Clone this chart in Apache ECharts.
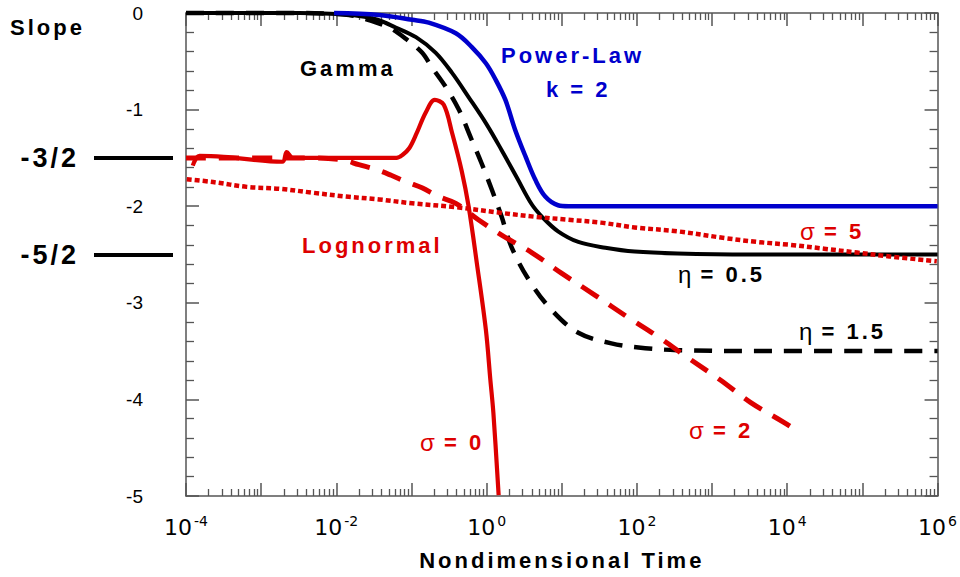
<!DOCTYPE html>
<html><head><meta charset="utf-8">
<script src="https://cdn.jsdelivr.net/npm/echarts@6/dist/echarts.min.js"></script>
<style>
html,body{margin:0;padding:0;background:#fff;}
#chart{width:960px;height:577px;}
#chart text[style*="bold"]{letter-spacing:3px;}
</style></head><body><div id="chart"></div>
<script>
// ---- data (x values are log10 of nondimensional time) ----
const xMajorExponents = [-4,-3,-2,-1,0,1,2,3,4,5,6];
const xLabelExponents = [-4,-2,0,2,4,6];
const yTickValues = [0,-1,-2,-3,-4,-5];
const slopeMarks = [-1.5,-2.5];
const slopeMarkLabels = ['-3/2','-5/2'];

const logT_gamma05 = [-4,-2.5,-2.0,-1.70,-1.45,-1.21,-0.94,-0.68,-0.46,-0.24,-0.01,0.20,0.40,0.60,0.75,0.95,1.22,1.58,1.97,2.54,3.5,6];
const slope_gamma05 = [0,0,-0.01,-0.03,-0.07,-0.15,-0.25,-0.41,-0.62,-0.87,-1.14,-1.42,-1.70,-1.98,-2.12,-2.26,-2.37,-2.43,-2.47,-2.49,-2.5,-2.5];

const logT_gamma15 = [-4,-2.5,-2.0,-1.83,-1.66,-1.30,-1.07,-0.86,-0.73,-0.54,-0.37,-0.20,-0.07,0.07,0.20,0.33,0.56,0.86,1.22,1.66,2.11,2.54,3.5,6];
const slope_gamma15 = [0,0,-0.01,-0.02,-0.05,-0.15,-0.27,-0.41,-0.56,-0.77,-1.00,-1.31,-1.55,-1.83,-2.11,-2.42,-2.76,-3.07,-3.31,-3.42,-3.47,-3.49,-3.5,-3.5];

const logT_power2 = [-2.03,-1.43,-0.99,-0.77,-0.41,-0.20,-0.01,0.12,0.25,0.38,0.52,0.65,0.78,0.95,1.09,6];
const slope_power2 = [0,-0.02,-0.07,-0.10,-0.21,-0.35,-0.52,-0.69,-0.90,-1.21,-1.49,-1.73,-1.90,-1.99,-2.0,-2.0];

const logT_sigma5 = [-3.99,-3.64,-3.19,-2.75,-2.32,-1.87,-1.43,-0.99,-0.41,0.20,0.65,1.09,1.52,1.97,2.54,3.17,3.60,4.04,4.49,4.93,5.36,5.99];
const slope_sigma5 = [-1.72,-1.75,-1.80,-1.82,-1.86,-1.90,-1.93,-1.97,-2.01,-2.07,-2.11,-2.14,-2.17,-2.22,-2.26,-2.33,-2.37,-2.40,-2.44,-2.48,-2.52,-2.57];

const logT_sigma2 = [-4,-3,-2.3,-1.92,-1.70,-1.47,-1.27,-1.06,-0.86,-0.64,-0.41,-0.11,0.20,0.60,0.99,1.44,1.88,2.28,2.68,3.11,3.51,3.96,4.16];
const slope_sigma2 = [-1.5,-1.5,-1.5,-1.52,-1.57,-1.62,-1.68,-1.75,-1.81,-1.90,-1.97,-2.14,-2.30,-2.48,-2.69,-2.92,-3.15,-3.35,-3.57,-3.80,-4.03,-4.24,-4.34];

const logT_sigma0 = [-3.91,-3.82,-3.5,-2.72,-2.66,-2.58,-2.4,-1.5,-1.2,-1.12,-1.03,-0.94,-0.81,-0.69,-0.57,-0.46,-0.33,-0.24,-0.13,-0.01,0.05,0.09,0.16];
const slope_sigma0 = [-1.58,-1.48,-1.49,-1.54,-1.44,-1.50,-1.50,-1.50,-1.50,-1.47,-1.40,-1.26,-1.03,-0.90,-0.95,-1.24,-1.64,-2.00,-2.59,-3.28,-3.80,-4.14,-4.99];

// ---- build ----
const zip = (xs, ys) => xs.map((x, i) => [x, ys[i]]);
const minorExp = [];
for (let d = -4; d < 6; d++) for (let k = 2; k <= 9; k++) minorExp.push(d + Math.log10(k));

const RED = '#dd0000', BLUE = '#0000cc', GRAY = '#555';
const LS = 'Liberation Sans';

function xAxisBase(pos, minor, labels) {
  return {
    type: 'value', position: pos, min: -4, max: 6, interval: 1,
    axisLine: { show: !minor, onZero: false, lineStyle: { color: GRAY, width: 1.5 } },
    axisTick: minor
      ? { show: true, inside: true, length: 7, customValues: minorExp, lineStyle: { color: GRAY, width: 1.3 } }
      : { show: true, inside: true, length: 13, lineStyle: { color: GRAY, width: 1.5 } },
    axisLabel: labels ? {
      show: true, margin: 18, hideOverlap: false,
      formatter: v => xLabelExponents.includes(v) ? '{b|10}{s|' + v + '}' : '',
      rich: {
        b: { fontFamily: 'DejaVu Sans', fontSize: 22, lineHeight: 24, verticalAlign: 'bottom', color: '#000' },
        s: { fontFamily: 'DejaVu Sans', fontSize: 14, lineHeight: 12, verticalAlign: 'top', padding: [0, 0, 0, 2], color: '#000' }
      }
    } : { show: false },
    splitLine: { show: false }
  };
}
function yAxisBase(pos, labels) {
  return {
    type: 'value', position: pos, min: -5, max: 0, interval: 1,
    axisLine: { show: true, onZero: false, lineStyle: { color: GRAY, width: 1.5 } },
    axisTick: { show: true, inside: true, length: 13, lineStyle: { color: GRAY, width: 1.5 } },
    minorTick: { show: true, splitNumber: 5, length: 8, lineStyle: { color: GRAY, width: 1.3 } },
    axisLabel: labels ? {
      show: true, margin: 43, fontFamily: LS, fontSize: 19, color: '#000',
      formatter: v => yTickValues.includes(v) ? String(v) : ''
    } : { show: false },
    splitLine: { show: false }
  };
}

const xMain = xAxisBase('bottom', false, true);
xMain.name = 'Nondimensional Time';
xMain.nameLocation = 'middle';
xMain.nameGap = 53;
xMain.nameTextStyle = { fontFamily: LS, fontWeight: 'bold', fontSize: 22, color: '#000' };

const yMarks = {
  type: 'value', position: 'left', offset: 13, min: -5, max: 0,
  axisLine: { show: false, onZero: false },
  axisTick: { show: true, inside: false, length: 79, customValues: slopeMarks, lineStyle: { color: '#000', width: 4 } },
  axisLabel: {
    show: true, margin: 94, customValues: slopeMarks,
    fontFamily: LS, fontWeight: 'bold', fontSize: 27, color: '#000',
    formatter: v => slopeMarkLabels[slopeMarks.indexOf(v)] || ''
  },
  splitLine: { show: false }
};

function lineSeries(name, xs, ys, color, width, type) {
  return {
    name, type: 'line', xAxisIndex: 0, yAxisIndex: 0,
    data: zip(xs, ys), symbol: 'none', showSymbol: false, clip: false,
    smooth: 0.35,
    lineStyle: { color, width, type, cap: 'butt', join: 'round' },
    emphasis: { disabled: true }, silent: true
  };
}

function txt(x, y, text, color, rich) {
  const st = {
    text, x, y, fill: color, fontFamily: LS, fontSize: 22, fontWeight: 'bold',
    textAlign: 'left', align: 'left', textVerticalAlign: 'middle', verticalAlign: 'middle'
  };
  if (rich) st.rich = rich;
  return { type: 'text', silent: true, style: st };
}
const greek = { g: { fontFamily: LS, fontWeight: 'normal', fontSize: 24 } };

const option = {
  animation: false,
  backgroundColor: '#fff',
  grid: { left: 186, right: 18, top: 13, bottom: 81, containLabel: false },
  xAxis: [xMain, xAxisBase('bottom', true, false), xAxisBase('top', false, false), xAxisBase('top', true, false)],
  yAxis: [yAxisBase('left', true), yAxisBase('right', false), yMarks],
  series: [
    lineSeries('Gamma η=1.5', logT_gamma15, slope_gamma15, '#000', 4.5, [18, 12]),
    lineSeries('Gamma η=0.5', logT_gamma05, slope_gamma05, '#000', 4, 'solid'),
    lineSeries('Power-Law k=2', logT_power2, slope_power2, BLUE, 4.5, 'solid'),
    lineSeries('Lognormal σ=5', logT_sigma5, slope_sigma5, RED, 4.5, [5, 3]),
    lineSeries('Lognormal σ=2', logT_sigma2, slope_sigma2, RED, 5, [20, 13]),
    lineSeries('Lognormal σ=0', logT_sigma0, slope_sigma0, RED, 4.2, 'solid')
  ],
  graphic: [
    txt(10, 27, 'Slope', '#000'),
    txt(300, 68, 'Gamma', '#000'),
    txt(501, 55, 'Power-Law', BLUE),
    txt(546, 89, 'k = 2', BLUE),
    txt(302, 245, 'Lognormal', RED),
    txt(800, 231, '{g|σ} = 5', RED, greek),
    txt(678, 274, '{g|η} = 0.5', '#000', greek),
    txt(799, 331, '{g|η} = 1.5', '#000', greek),
    txt(689, 430, '{g|σ} = 2', RED, greek),
    txt(420, 442, '{g|σ} = 0', RED, greek)
  ]
};

const chart = echarts.init(document.getElementById('chart'), null, { renderer: 'svg', width: 960, height: 577 });
chart.setOption(option);
</script></body></html>
